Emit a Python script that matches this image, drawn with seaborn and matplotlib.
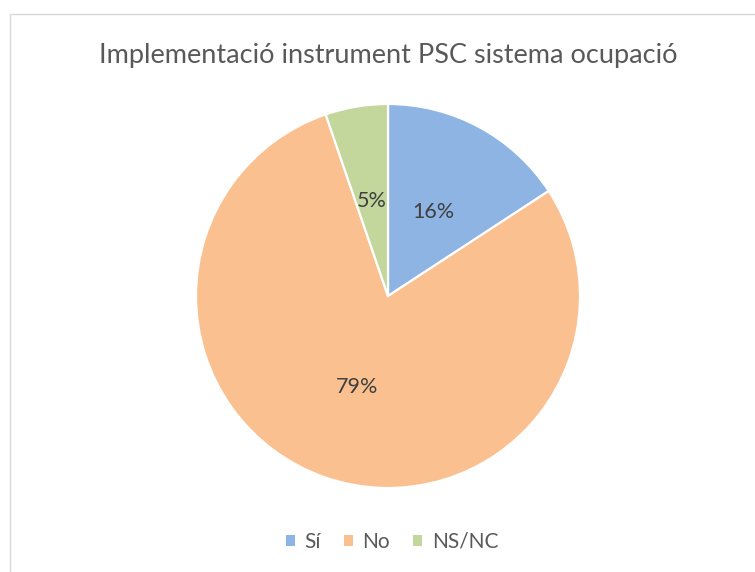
import matplotlib
matplotlib.use("Agg")
import matplotlib.pyplot as plt
import seaborn as sns
from matplotlib.patches import Rectangle, Patch

sns.set_theme(style="white")
plt.rcParams['font.family'] = ['Lato', 'DejaVu Sans']

# Data
categories = ["Sí", "No", "NS/NC"]
counts = [3, 15, 1]
colors = ["#8EB4E3", "#FAC090", "#C3D69B"]
title = "Implementació instrument PSC sistema ocupació"
text_color = "#595959"

W, H = 755, 572
fig = plt.figure(figsize=(W / 100, H / 100), dpi=100)

# light grey chart border
fig.patches.append(Rectangle((10 / W, -0.01), 1.0, (H - 14) / H + 0.01,
                             transform=fig.transFigure, fill=False,
                             edgecolor="#D9D9D9", linewidth=1.0))

cx, cy, r = 388, 296, 192
ax = fig.add_axes([(cx - r) / W, (H - cy - r) / H, 2 * r / W, 2 * r / H])
wedges, texts, autotexts = ax.pie(
    counts, colors=colors, startangle=90, counterclock=False,
    autopct=lambda p: f"{p:.0f}%", pctdistance=0.5,
    wedgeprops=dict(edgecolor="white", linewidth=1.6),
    textprops=dict(color="#404040", fontsize=15.5))
ax.set_xlim(-1, 1)
ax.set_ylim(-1, 1)
ax.set_aspect("equal")
ax.axis("off")

fig.text(cx / W, 1 - 55 / H, title, ha="center", va="center",
         fontsize=19.5, color=text_color)

handles = [Patch(facecolor=c, edgecolor="none") for c in colors]
fig.legend(handles, categories, loc="center", bbox_to_anchor=(392 / W, 1 - 542 / H),
           ncol=3, frameon=False, fontsize=15, handlelength=0.45, handleheight=0.45,
           handletextpad=0.45, columnspacing=1.1, labelcolor=text_color)

fig.savefig("out.png", dpi=100)
